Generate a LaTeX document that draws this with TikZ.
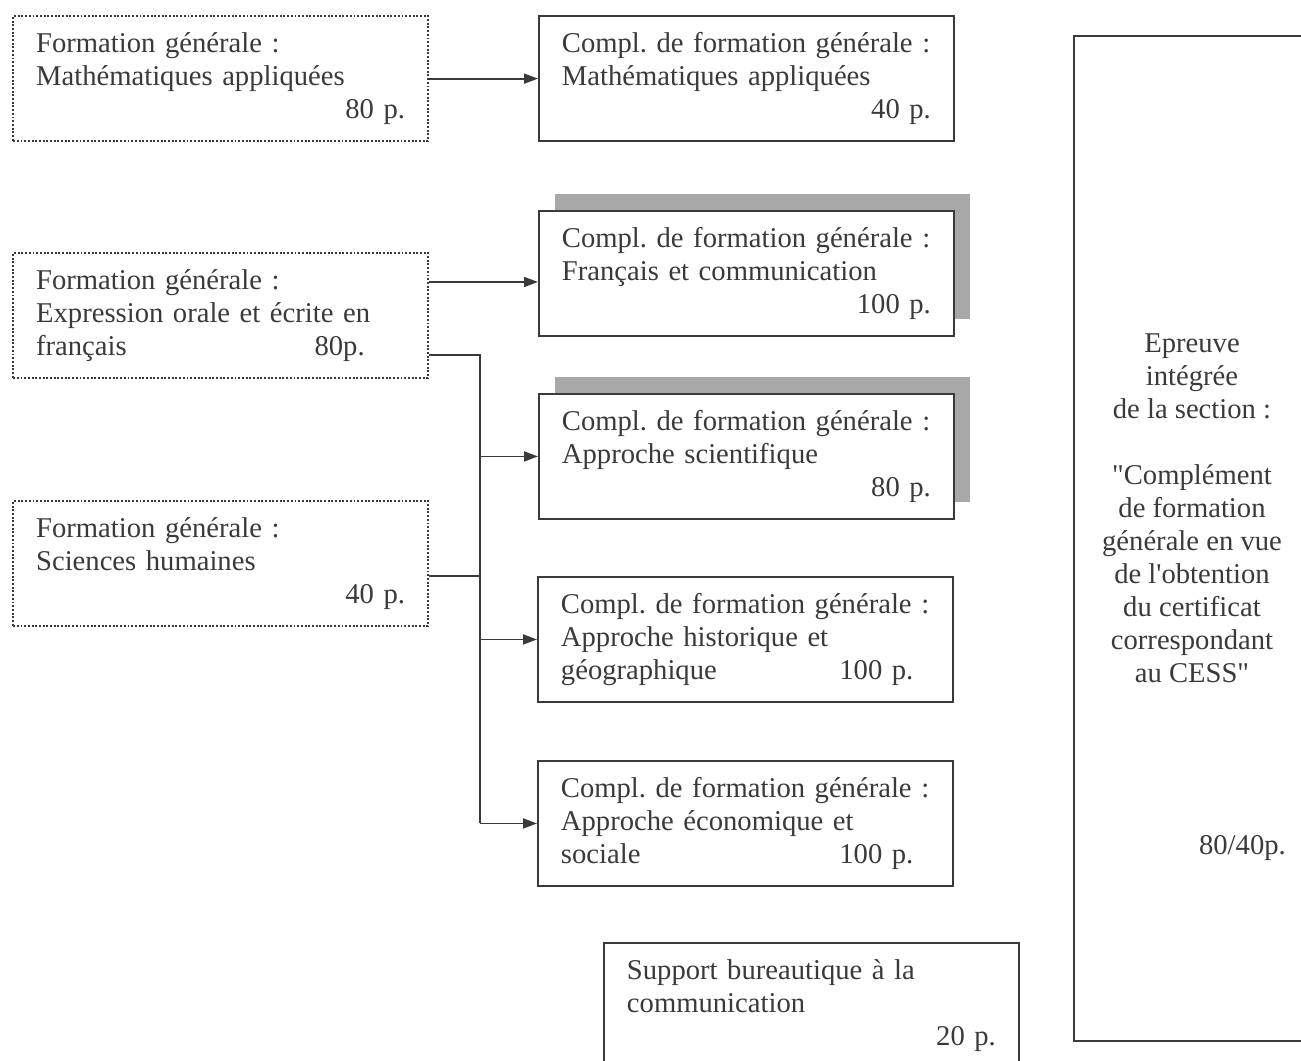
\documentclass[tikz,border=0pt]{standalone}
\usepackage{fontspec}
\setmainfont{Liberation Serif}
\usepackage{tikz}
\usetikzlibrary{arrows.meta,calc,shadows}
\definecolor{InkGray}{HTML}{3a3a3a}
\definecolor{ShadowGray}{HTML}{a8a8a8}
\newcommand{\ptsat}[2]{\makebox[5.57cm][l]{#1}#2}
\frenchspacing

\begin{document}
\begin{tikzpicture}[x=0.02cm,y=-0.02cm,
    every node/.style={text=InkGray,font=\fontsize{16.3}{18.8}\selectfont},
    course/.style={draw=InkGray,line width=1.1pt,fill=white,anchor=north west,
      minimum width=8.3cm,minimum height=2.5cm,text width=7.38cm,inner xsep=0.46cm,align=left},
    generale/.style={course,densely dotted,line width=1.3pt},
    shadowed/.style={course,drop shadow={shadow xshift=0.32cm,shadow yshift=0.34cm,fill=ShadowGray,opacity=1}},
    link/.style={draw=InkGray,line width=1pt},
    conn/.style={link,-{Triangle[length=0.28cm,width=0.2cm]}}]
    \useasboundingbox (0,0) rectangle (1301,1061);
    % left column
    \node[generale] (fgmath) at (12,15) {Formation générale :\\ Mathématiques appliquées\\ \hspace*{\fill}80 p.};
    \node[generale] (fgfr) at (12,252) {Formation générale :\\ Expression orale et écrite en\\ \ptsat{français}{80p.}};
    \node[generale] (fgsh) at (12,500) {Formation générale :\\ Sciences humaines\\ \hspace*{\fill}40 p.};
    % middle column
    \node[course] (cmath) at (538,15) {Compl. de formation générale :\\ Mathématiques appliquées\\ \hspace*{\fill}40 p.};
    \node[shadowed] (cfr) at (538,210) {Compl. de formation générale :\\ Français et communication\\ \hspace*{\fill}100 p.};
    \node[shadowed] (csci) at (538,393) {Compl. de formation générale :\\ Approche scientifique\\ \hspace*{\fill}80 p.};
    \node[course] (chist) at (537,576) {Compl. de formation générale :\\ Approche historique et\\ \ptsat{géographique}{100 p.}};
    \node[course] (cecon) at (537,760) {Compl. de formation générale :\\ Approche économique et\\ \ptsat{sociale}{100 p.}};
    \node[course] (support) at (603,942) {Support bureautique à la\\ communication\\ \hspace*{\fill}20 p.};
    % integrated test
    \node[link,line width=1.1pt,anchor=north west,minimum width=6.6cm,minimum height=20.1cm] (epreuve) at (1073,35) {};
    \node[align=center] (epreuvetxt) at (1192,508) {Epreuve\\ intégrée\\ de la section :\\[18.8pt]
      \textquotedbl Complément\\ de formation\\ générale en vue\\ de l\textquotesingle obtention\\ du certificat\\ correspondant\\ au CESS\textquotedbl};
    \node[anchor=east] (epreuvepts) at (1292,848) {80/40p.};
    % connectors
    \draw[conn] (fgmath.east) -- (fgmath.east -| cmath.west);
    \coordinate (frout) at ([yshift=-0.6cm]fgfr.north east);
    \draw[conn] (frout) -- (frout -| cfr.west);
    \coordinate (busout) at ([yshift=0.48cm]fgfr.south east);
    \coordinate (shout) at ([yshift=-1.52cm]fgsh.north east);
    \coordinate (bus) at (480,0);
    \draw[link] (busout) -- (busout -| bus) -- (bus |- cecon.west);
    \draw[link] (shout) -- (shout -| bus);
    \foreach \name in {csci,chist,cecon} {
      \draw[conn] (bus |- \name.west) -- (\name.west);
    }
\end{tikzpicture}
\end{document}
